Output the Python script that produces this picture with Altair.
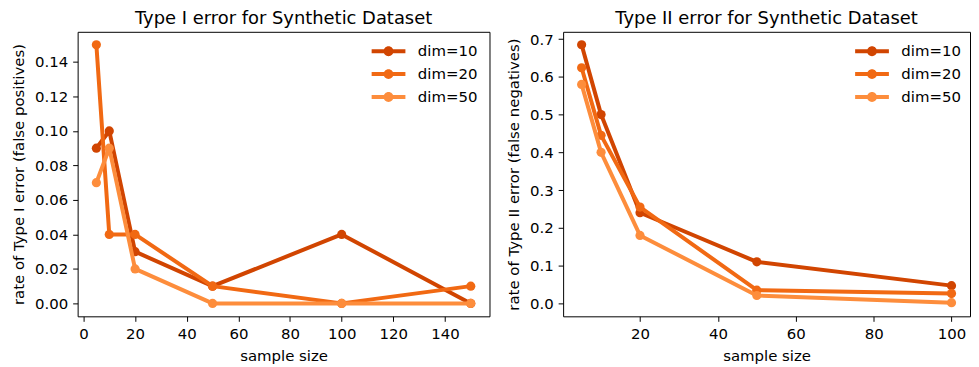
import altair as alt
import pandas as pd

series = ["dim=10", "dim=20", "dim=50"]
colors = ["#d14501", "#f16913", "#fd8d3c"]

x1 = [5, 10, 20, 50, 100, 150]
t1_dim10 = [0.09, 0.10, 0.03, 0.01, 0.04, 0.00]
t1_dim20 = [0.15, 0.04, 0.04, 0.01, 0.00, 0.01]
t1_dim50 = [0.07, 0.09, 0.02, 0.00, 0.00, 0.00]

x2 = [5, 10, 20, 50, 100]
t2_dim10 = [0.685, 0.50, 0.24, 0.11, 0.047]
t2_dim20 = [0.624, 0.445, 0.255, 0.035, 0.026]
t2_dim50 = [0.58, 0.40, 0.18, 0.021, 0.002]

FONT = "DejaVu Sans"
legend_path = ("M -3 -0.36 L 3 -0.36 L 3 0.36 L -3 0.36 Z "
               "M 0.88 0 A 0.88 0.88 0 1 1 -0.88 0 A 0.88 0.88 0 1 1 0.88 0 Z")


def long(xs, ys_list):
    rows = []
    for name, ys in zip(series, ys_list):
        for o, (a, b) in enumerate(zip(xs, ys)):
            rows.append({"x": a, "y": b, "dim": name, "o": o})
    return pd.DataFrame(rows)


def panel(df, title, ytitle, xdom, ydom, xticks, yticks, yfmt, w, h, lx):
    color = alt.Color(
        "dim:N",
        scale=alt.Scale(domain=series, range=colors),
        legend=alt.Legend(
            title=None, orient="none", legendX=lx, legendY=12,
            symbolType=legend_path, symbolSize=128, symbolStrokeWidth=0,
            labelFontSize=15, labelFont=FONT, labelColor="black",
            rowPadding=7, labelOffset=22,
        ),
    )
    xenc = alt.X("x:Q", title="sample size",
                 scale=alt.Scale(domain=xdom, nice=False, zero=False),
                 axis=alt.Axis(values=xticks, format="d"))
    yenc = alt.Y("y:Q", title=ytitle,
                 scale=alt.Scale(domain=ydom, nice=False, zero=False),
                 axis=alt.Axis(values=yticks, format=yfmt))
    layers = []
    for s in series:
        sub = df[df["dim"] == s]
        base = alt.Chart(sub)
        layers.append(base.mark_line(strokeWidth=4, strokeCap="round", strokeJoin="round")
                      .encode(x=xenc, y=yenc, color=color, order="o:Q"))
        layers.append(base.mark_circle(size=85, opacity=1)
                      .encode(x=xenc, y=yenc, color=color))
    return alt.layer(*layers).properties(width=w, height=h, title=title)


df1 = long(x1, [t1_dim10, t1_dim20, t1_dim50])
df2 = long(x2, [t2_dim10, t2_dim20, t2_dim50])

p1 = panel(df1, "Type I error for Synthetic Dataset",
           "rate of Type I error (false positives)",
           [-2.25, 157.25], [-0.0075, 0.1575],
           [0, 20, 40, 60, 80, 100, 120, 140],
           [0.0, 0.02, 0.04, 0.06, 0.08, 0.10, 0.12, 0.14], ".2f", 414, 286, 305)
p2 = panel(df2, "Type II error for Synthetic Dataset",
           "rate of Type II error (false negatives)",
           [0.25, 104.75], [-0.03425, 0.71925],
           [20, 40, 60, 80, 100],
           [0.0, 0.1, 0.2, 0.3, 0.4, 0.5, 0.6, 0.7], ".1f", 409, 286, 303)

chart = alt.hconcat(p1, p2, spacing=15).resolve_legend(color="independent").properties(
    padding={"left": 3, "top": 0, "right": 0, "bottom": 0}
).configure_view(
    stroke="black", strokeWidth=1
).configure_axis(
    grid=False, domain=False, ticks=True, tickColor="black", tickSize=5,
    labelFont=FONT, labelFontSize=15, labelColor="black",
    titleFont=FONT, titleFontSize=15, titleFontWeight="normal", titleColor="black",
).configure_axisY(titlePadding=8, labelPadding=5).configure_axisX(
    titlePadding=7, labelPadding=5
).configure_title(
    font=FONT, fontSize=18, fontWeight="normal", color="black", anchor="middle", offset=4
)

chart.save("out.html", embed_options={"renderer": "svg", "actions": False})
